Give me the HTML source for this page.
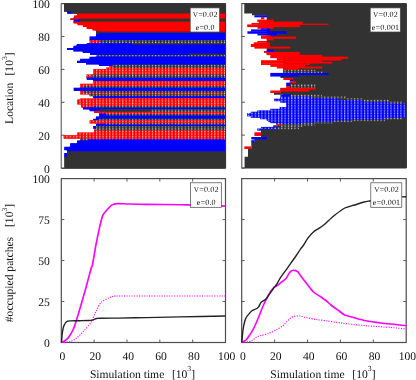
<!DOCTYPE html>
<html><head><meta charset="utf-8"><title>Simulation panels</title>
<style>html,body{margin:0;padding:0;background:#fff;}body{width:416px;height:380px;overflow:hidden;position:relative;font-family:"Liberation Serif",serif;}</style></head>
<body>
<svg width="416" height="380" viewBox="0 0 416 380" style="position:absolute;left:0;top:0;display:block;will-change:transform;text-rendering:geometricPrecision">
<defs>
<pattern id="p1" x="59.80" y="167.30" width="3.286" height="1.647" patternUnits="userSpaceOnUse"><rect x="0" y="0" width="1.15" height="1.05" fill="#fff" fill-opacity="0.75"/></pattern>
<pattern id="p2" x="241.50" y="167.50" width="3.31" height="1.647" patternUnits="userSpaceOnUse"><rect x="0" y="0" width="1.15" height="1.05" fill="#fff" fill-opacity="0.75"/></pattern>
<clipPath id="c1"><path d="M225.60 3.60 L64.00 3.60 L64.00 11.70 L67.20 11.70 L67.20 13.70 L77.00 13.70 L77.00 15.60 L74.00 15.60 L74.00 17.00 L73.70 17.00 L73.70 18.30 L70.30 18.30 L70.30 18.80 L70.30 18.80 L70.30 19.90 L73.70 19.90 L73.70 21.80 L73.50 21.80 L73.50 23.50 L77.50 23.50 L77.50 25.30 L83.00 25.30 L83.00 27.00 L86.70 27.00 L86.70 29.00 L92.50 29.00 L92.50 30.50 L96.00 30.50 L96.00 31.20 L96.00 31.20 L96.00 31.80 L96.00 31.80 L96.00 33.00 L96.00 33.00 L96.00 34.00 L96.00 34.00 L96.00 36.40 L89.60 36.40 L89.60 40.20 L89.60 40.20 L89.60 40.30 L89.60 40.30 L89.60 43.30 L86.70 43.30 L86.70 43.40 L86.70 43.40 L86.70 44.20 L76.80 44.20 L76.80 44.70 L76.80 44.70 L76.80 45.80 L73.50 45.80 L73.50 47.90 L67.00 47.90 L67.00 50.00 L73.50 50.00 L73.50 51.50 L82.80 51.50 L82.80 53.00 L90.10 53.00 L90.10 53.60 L90.10 53.60 L90.10 55.00 L96.00 55.00 L96.00 56.70 L89.60 56.70 L89.60 58.80 L80.20 58.80 L80.20 60.70 L77.00 60.70 L77.00 63.10 L86.00 63.10 L86.00 64.60 L99.00 64.60 L99.00 64.80 L99.00 64.80 L99.00 66.00 L109.00 66.00 L109.00 67.50 L106.00 67.50 L106.00 68.00 L106.00 68.00 L106.00 69.00 L93.20 69.00 L93.20 74.40 L86.00 74.40 L86.00 74.70 L86.00 74.70 L86.00 77.60 L86.70 77.60 L86.70 77.70 L86.70 77.70 L86.70 79.80 L93.20 79.80 L93.20 81.00 L93.20 81.00 L93.20 83.70 L80.20 83.70 L80.20 86.00 L80.20 86.00 L80.20 87.70 L73.70 87.70 L73.70 90.90 L80.20 90.90 L80.20 93.00 L80.20 93.00 L80.20 94.50 L89.60 94.50 L89.60 96.30 L93.20 96.30 L93.20 98.40 L80.20 98.40 L80.20 99.50 L77.30 99.50 L77.30 104.60 L81.00 104.60 L81.00 106.00 L81.00 106.00 L81.00 107.30 L81.00 107.30 L81.00 107.50 L83.00 107.50 L83.00 107.60 L83.00 107.60 L83.00 107.70 L83.00 107.70 L83.00 109.40 L89.60 109.40 L89.60 111.20 L94.00 111.20 L94.00 111.90 L94.00 111.90 L94.00 113.00 L99.70 113.00 L99.70 113.60 L99.20 113.60 L99.20 113.90 L99.20 113.90 L99.20 115.50 L99.70 115.50 L99.70 115.60 L99.70 115.60 L99.70 116.50 L96.00 116.50 L96.00 118.70 L93.20 118.70 L93.20 118.80 L93.20 118.80 L93.20 120.20 L89.60 120.20 L89.60 120.40 L89.60 120.40 L89.60 123.20 L89.60 123.20 L89.60 123.60 L106.00 123.60 L106.00 123.80 L96.00 123.80 L96.00 124.60 L96.00 124.60 L96.00 126.00 L93.20 126.00 L93.20 126.20 L93.20 126.20 L93.20 126.40 L93.20 126.40 L93.20 128.80 L96.00 128.80 L96.00 129.60 L94.00 129.60 L94.00 130.60 L94.00 130.60 L94.00 132.50 L77.30 132.50 L77.30 135.30 L63.60 135.30 L63.60 138.70 L80.20 138.70 L80.20 139.40 L80.20 139.40 L80.20 140.60 L77.00 140.60 L77.00 143.20 L70.20 143.20 L70.20 146.80 L64.30 146.80 L64.30 150.20 L67.00 150.20 L67.00 151.60 L67.00 151.60 L67.00 153.00 L64.30 153.00 L64.30 156.80 L64.30 156.80 L64.30 168.30 L225.60 168.30 Z"/></clipPath>
<filter id="soft" x="-2%" y="-2%" width="104%" height="104%"><feGaussianBlur stdDeviation="0.4"/></filter>
</defs>
<rect x="0" y="0" width="416" height="380" fill="#fff"/>
<g filter="url(#soft)">
<g clip-path="url(#c1)">
<rect x="63.30" y="2.90" width="163.00" height="9.50" fill="#333333"/>
<rect x="69.80" y="11.00" width="156.50" height="3.40" fill="#333333"/>
<rect x="66.50" y="11.00" width="4.70" height="3.40" fill="#0000ff"/>
<rect x="76.30" y="13.00" width="150.00" height="3.30" fill="#ff0000"/>
<rect x="73.30" y="14.90" width="153.00" height="2.80" fill="#ff0000"/>
<rect x="73.00" y="16.30" width="153.30" height="3.20" fill="#ff0000"/>
<rect x="69.60" y="17.60" width="5.00" height="3.00" fill="#ff0000"/>
<rect x="79.30" y="18.10" width="147.00" height="4.40" fill="#333333"/>
<rect x="73.00" y="19.20" width="7.70" height="3.30" fill="#0000ff"/>
<rect x="72.80" y="21.10" width="153.50" height="3.10" fill="#ff0000"/>
<rect x="76.80" y="22.80" width="149.50" height="3.20" fill="#ff0000"/>
<rect x="82.30" y="24.60" width="144.00" height="3.10" fill="#ff0000"/>
<rect x="86.00" y="26.30" width="140.30" height="3.40" fill="#ff0000"/>
<rect x="91.80" y="28.30" width="134.50" height="2.90" fill="#ff0000"/>
<rect x="95.30" y="29.80" width="131.00" height="2.70" fill="#ff0000"/>
<rect x="95.30" y="30.50" width="5.10" height="4.20" fill="#333333"/>
<rect x="99.00" y="31.10" width="127.30" height="2.60" fill="#333333"/>
<rect x="99.00" y="32.30" width="127.30" height="2.40" fill="#0000ff"/>
<rect x="95.30" y="33.30" width="131.00" height="3.80" fill="#0000ff"/>
<rect x="88.90" y="35.70" width="137.40" height="5.30" fill="#0000ff"/>
<rect x="88.90" y="39.50" width="10.80" height="4.50" fill="#ff0000"/>
<rect x="98.30" y="39.50" width="128.00" height="4.60" fill="#333333"/>
<rect x="131.00" y="42.70" width="95.30" height="2.70" fill="#333333"/>
<rect x="86.00" y="42.60" width="46.40" height="2.80" fill="#0000ff"/>
<rect x="76.10" y="43.50" width="56.30" height="3.00" fill="#0000ff"/>
<rect x="76.10" y="44.00" width="150.20" height="2.50" fill="#0000ff"/>
<rect x="72.80" y="45.10" width="153.50" height="3.50" fill="#0000ff"/>
<rect x="66.30" y="47.20" width="160.00" height="3.50" fill="#0000ff"/>
<rect x="72.80" y="49.30" width="153.50" height="2.90" fill="#0000ff"/>
<rect x="82.10" y="50.80" width="144.20" height="2.90" fill="#0000ff"/>
<rect x="89.40" y="52.30" width="136.90" height="3.40" fill="#0000ff"/>
<rect x="95.30" y="54.30" width="131.00" height="3.10" fill="#333333"/>
<rect x="188.70" y="52.90" width="37.60" height="2.80" fill="#333333"/>
<rect x="88.90" y="56.00" width="137.40" height="3.50" fill="#0000ff"/>
<rect x="79.50" y="58.10" width="146.80" height="3.30" fill="#0000ff"/>
<rect x="76.30" y="60.00" width="150.00" height="3.80" fill="#0000ff"/>
<rect x="85.30" y="62.40" width="141.00" height="2.90" fill="#0000ff"/>
<rect x="98.30" y="63.90" width="128.00" height="2.80" fill="#0000ff"/>
<rect x="112.00" y="64.10" width="114.30" height="4.60" fill="#333333"/>
<rect x="108.30" y="65.30" width="5.10" height="2.90" fill="#ff0000"/>
<rect x="105.30" y="66.80" width="8.10" height="2.90" fill="#ff0000"/>
<rect x="112.00" y="67.30" width="114.30" height="2.40" fill="#ff0000"/>
<rect x="92.50" y="68.30" width="133.80" height="7.10" fill="#ff0000"/>
<rect x="85.30" y="73.70" width="7.90" height="4.60" fill="#ff0000"/>
<rect x="91.80" y="74.00" width="134.50" height="4.40" fill="#333333"/>
<rect x="86.00" y="76.90" width="140.30" height="3.60" fill="#0000ff"/>
<rect x="92.50" y="79.10" width="133.80" height="2.60" fill="#0000ff"/>
<rect x="92.50" y="80.30" width="133.80" height="4.10" fill="#ff0000"/>
<rect x="79.50" y="83.00" width="146.80" height="3.70" fill="#ff0000"/>
<rect x="79.50" y="85.30" width="5.00" height="3.10" fill="#ff0000"/>
<rect x="83.10" y="85.30" width="143.20" height="3.10" fill="#333333"/>
<rect x="73.00" y="87.00" width="153.30" height="4.60" fill="#0000ff"/>
<rect x="79.50" y="90.20" width="5.00" height="3.50" fill="#ff0000"/>
<rect x="83.10" y="90.20" width="143.20" height="3.50" fill="#333333"/>
<rect x="79.50" y="92.30" width="146.80" height="2.90" fill="#ff0000"/>
<rect x="88.90" y="93.80" width="137.40" height="3.20" fill="#333333"/>
<rect x="92.50" y="95.60" width="133.80" height="3.50" fill="#0000ff"/>
<rect x="79.50" y="97.70" width="146.80" height="2.50" fill="#ff0000"/>
<rect x="76.60" y="98.80" width="149.70" height="6.50" fill="#ff0000"/>
<rect x="80.30" y="103.90" width="146.00" height="2.80" fill="#ff0000"/>
<rect x="80.30" y="105.30" width="13.40" height="2.90" fill="#ff0000"/>
<rect x="92.30" y="105.30" width="134.00" height="3.10" fill="#333333"/>
<rect x="82.30" y="106.60" width="18.10" height="3.50" fill="#0000ff"/>
<rect x="99.00" y="106.90" width="127.30" height="3.20" fill="#0000ff"/>
<rect x="88.90" y="108.70" width="11.50" height="3.20" fill="#0000ff"/>
<rect x="99.00" y="108.70" width="51.70" height="3.90" fill="#333333"/>
<rect x="149.30" y="108.70" width="77.00" height="3.90" fill="#333333"/>
<rect x="93.30" y="110.50" width="7.10" height="3.20" fill="#ff0000"/>
<rect x="99.00" y="111.20" width="8.10" height="3.10" fill="#ff0000"/>
<rect x="98.50" y="112.90" width="8.60" height="3.30" fill="#0000ff"/>
<rect x="105.70" y="111.20" width="120.60" height="3.40" fill="#ff0000"/>
<rect x="105.70" y="113.20" width="120.60" height="3.10" fill="#333333"/>
<rect x="99.00" y="114.80" width="127.30" height="2.40" fill="#0000ff"/>
<rect x="95.30" y="115.80" width="131.00" height="3.70" fill="#0000ff"/>
<rect x="92.50" y="118.00" width="7.20" height="3.10" fill="#0000ff"/>
<rect x="98.30" y="118.10" width="128.00" height="2.80" fill="#333333"/>
<rect x="88.90" y="119.50" width="137.40" height="4.80" fill="#ff0000"/>
<rect x="105.30" y="122.50" width="121.00" height="2.80" fill="#333333"/>
<rect x="95.30" y="123.10" width="14.40" height="4.00" fill="#0000ff"/>
<rect x="108.30" y="123.90" width="118.00" height="3.00" fill="#0000ff"/>
<rect x="92.50" y="125.30" width="4.20" height="4.20" fill="#0000ff"/>
<rect x="95.30" y="125.70" width="131.00" height="5.60" fill="#333333"/>
<rect x="93.30" y="128.90" width="3.40" height="4.30" fill="#ff0000"/>
<rect x="95.30" y="129.90" width="131.00" height="3.30" fill="#ff0000"/>
<rect x="76.60" y="131.80" width="149.70" height="4.20" fill="#ff0000"/>
<rect x="62.90" y="134.60" width="163.40" height="4.80" fill="#ff0000"/>
<rect x="79.50" y="138.00" width="9.20" height="3.30" fill="#333333"/>
<rect x="87.30" y="138.00" width="139.00" height="2.10" fill="#ff0000"/>
<rect x="87.30" y="138.70" width="139.00" height="2.60" fill="#0000ff"/>
<rect x="76.30" y="139.90" width="150.00" height="4.00" fill="#0000ff"/>
<rect x="69.50" y="142.50" width="156.80" height="5.00" fill="#0000ff"/>
<rect x="63.60" y="146.10" width="162.70" height="4.80" fill="#0000ff"/>
<rect x="66.30" y="149.50" width="160.00" height="2.80" fill="#0000ff"/>
<rect x="63.60" y="152.30" width="4.10" height="5.20" fill="#0000ff"/>
<rect x="66.30" y="150.90" width="160.00" height="6.60" fill="#333333"/>
<rect x="63.60" y="156.10" width="162.70" height="12.90" fill="#333333"/>
<rect x="64.00" y="3.60" width="161.60" height="8.10" fill="#333333"/>
<rect x="70.50" y="11.70" width="155.10" height="2.00" fill="#333333"/>
<rect x="67.20" y="11.70" width="3.30" height="2.00" fill="#0000ff"/>
<rect x="77.00" y="13.70" width="148.60" height="1.90" fill="#ff0000"/>
<rect x="74.00" y="15.60" width="151.60" height="1.40" fill="#ff0000"/>
<rect x="73.70" y="17.00" width="151.90" height="1.80" fill="#ff0000"/>
<rect x="70.30" y="18.30" width="3.60" height="1.60" fill="#ff0000"/>
<rect x="80.00" y="18.80" width="145.60" height="3.00" fill="#333333"/>
<rect x="73.70" y="19.90" width="6.30" height="1.90" fill="#0000ff"/>
<rect x="73.50" y="21.80" width="152.10" height="1.70" fill="#ff0000"/>
<rect x="77.50" y="23.50" width="148.10" height="1.80" fill="#ff0000"/>
<rect x="83.00" y="25.30" width="142.60" height="1.70" fill="#ff0000"/>
<rect x="86.70" y="27.00" width="138.90" height="2.00" fill="#ff0000"/>
<rect x="92.50" y="29.00" width="133.10" height="1.50" fill="#ff0000"/>
<rect x="96.00" y="30.50" width="129.60" height="1.30" fill="#ff0000"/>
<rect x="96.00" y="31.20" width="3.70" height="2.80" fill="#333333"/>
<rect x="99.70" y="31.80" width="125.90" height="1.20" fill="#333333"/>
<rect x="99.70" y="33.00" width="125.90" height="1.00" fill="#0000ff"/>
<rect x="96.00" y="34.00" width="129.60" height="2.40" fill="#0000ff"/>
<rect x="89.60" y="36.40" width="136.00" height="3.90" fill="#0000ff"/>
<rect x="89.60" y="40.20" width="9.40" height="3.10" fill="#ff0000"/>
<rect x="99.00" y="40.20" width="126.60" height="3.20" fill="#333333"/>
<rect x="131.70" y="43.40" width="93.90" height="1.30" fill="#333333"/>
<rect x="86.70" y="43.30" width="45.00" height="1.40" fill="#0000ff"/>
<rect x="76.80" y="44.20" width="54.90" height="1.60" fill="#0000ff"/>
<rect x="76.80" y="44.70" width="148.80" height="1.10" fill="#0000ff"/>
<rect x="73.50" y="45.80" width="152.10" height="2.10" fill="#0000ff"/>
<rect x="67.00" y="47.90" width="158.60" height="2.10" fill="#0000ff"/>
<rect x="73.50" y="50.00" width="152.10" height="1.50" fill="#0000ff"/>
<rect x="82.80" y="51.50" width="142.80" height="1.50" fill="#0000ff"/>
<rect x="90.10" y="53.00" width="135.50" height="2.00" fill="#0000ff"/>
<rect x="96.00" y="55.00" width="129.60" height="1.70" fill="#333333"/>
<rect x="189.40" y="53.60" width="36.20" height="1.40" fill="#333333"/>
<rect x="89.60" y="56.70" width="136.00" height="2.10" fill="#0000ff"/>
<rect x="80.20" y="58.80" width="145.40" height="1.90" fill="#0000ff"/>
<rect x="77.00" y="60.70" width="148.60" height="2.40" fill="#0000ff"/>
<rect x="86.00" y="63.10" width="139.60" height="1.50" fill="#0000ff"/>
<rect x="99.00" y="64.60" width="126.60" height="1.40" fill="#0000ff"/>
<rect x="112.70" y="64.80" width="112.90" height="3.20" fill="#333333"/>
<rect x="109.00" y="66.00" width="3.70" height="1.50" fill="#ff0000"/>
<rect x="106.00" y="67.50" width="6.70" height="1.50" fill="#ff0000"/>
<rect x="112.70" y="68.00" width="112.90" height="1.00" fill="#ff0000"/>
<rect x="93.20" y="69.00" width="132.40" height="5.70" fill="#ff0000"/>
<rect x="86.00" y="74.40" width="6.50" height="3.20" fill="#ff0000"/>
<rect x="92.50" y="74.70" width="133.10" height="3.00" fill="#333333"/>
<rect x="86.70" y="77.60" width="138.90" height="2.20" fill="#0000ff"/>
<rect x="93.20" y="79.80" width="132.40" height="1.20" fill="#0000ff"/>
<rect x="93.20" y="81.00" width="132.40" height="2.70" fill="#ff0000"/>
<rect x="80.20" y="83.70" width="145.40" height="2.30" fill="#ff0000"/>
<rect x="80.20" y="86.00" width="3.60" height="1.70" fill="#ff0000"/>
<rect x="83.80" y="86.00" width="141.80" height="1.70" fill="#333333"/>
<rect x="73.70" y="87.70" width="151.90" height="3.20" fill="#0000ff"/>
<rect x="80.20" y="90.90" width="3.60" height="2.10" fill="#ff0000"/>
<rect x="83.80" y="90.90" width="141.80" height="2.10" fill="#333333"/>
<rect x="80.20" y="93.00" width="145.40" height="1.50" fill="#ff0000"/>
<rect x="89.60" y="94.50" width="136.00" height="1.80" fill="#333333"/>
<rect x="93.20" y="96.30" width="132.40" height="2.10" fill="#0000ff"/>
<rect x="80.20" y="98.40" width="145.40" height="1.10" fill="#ff0000"/>
<rect x="77.30" y="99.50" width="148.30" height="5.10" fill="#ff0000"/>
<rect x="81.00" y="104.60" width="144.60" height="1.40" fill="#ff0000"/>
<rect x="81.00" y="106.00" width="12.00" height="1.50" fill="#ff0000"/>
<rect x="93.00" y="106.00" width="132.60" height="1.70" fill="#333333"/>
<rect x="83.00" y="107.30" width="16.70" height="2.10" fill="#0000ff"/>
<rect x="99.70" y="107.60" width="125.90" height="1.80" fill="#0000ff"/>
<rect x="89.60" y="109.40" width="10.10" height="1.80" fill="#0000ff"/>
<rect x="99.70" y="109.40" width="50.30" height="2.50" fill="#333333"/>
<rect x="150.00" y="109.40" width="75.60" height="2.50" fill="#333333"/>
<rect x="94.00" y="111.20" width="5.70" height="1.80" fill="#ff0000"/>
<rect x="99.70" y="111.90" width="6.70" height="1.70" fill="#ff0000"/>
<rect x="99.20" y="113.60" width="7.20" height="1.90" fill="#0000ff"/>
<rect x="106.40" y="111.90" width="119.20" height="2.00" fill="#ff0000"/>
<rect x="106.40" y="113.90" width="119.20" height="1.70" fill="#333333"/>
<rect x="99.70" y="115.50" width="125.90" height="1.00" fill="#0000ff"/>
<rect x="96.00" y="116.50" width="129.60" height="2.30" fill="#0000ff"/>
<rect x="93.20" y="118.70" width="5.80" height="1.70" fill="#0000ff"/>
<rect x="99.00" y="118.80" width="126.60" height="1.40" fill="#333333"/>
<rect x="89.60" y="120.20" width="136.00" height="3.40" fill="#ff0000"/>
<rect x="106.00" y="123.20" width="119.60" height="1.40" fill="#333333"/>
<rect x="96.00" y="123.80" width="13.00" height="2.60" fill="#0000ff"/>
<rect x="109.00" y="124.60" width="116.60" height="1.60" fill="#0000ff"/>
<rect x="93.20" y="126.00" width="2.80" height="2.80" fill="#0000ff"/>
<rect x="96.00" y="126.40" width="129.60" height="4.20" fill="#333333"/>
<rect x="94.00" y="129.60" width="2.00" height="2.90" fill="#ff0000"/>
<rect x="96.00" y="130.60" width="129.60" height="1.90" fill="#ff0000"/>
<rect x="77.30" y="132.50" width="148.30" height="2.80" fill="#ff0000"/>
<rect x="63.60" y="135.30" width="162.00" height="3.40" fill="#ff0000"/>
<rect x="80.20" y="138.70" width="7.80" height="1.90" fill="#333333"/>
<rect x="88.00" y="138.70" width="137.60" height="0.70" fill="#ff0000"/>
<rect x="88.00" y="139.40" width="137.60" height="1.20" fill="#0000ff"/>
<rect x="77.00" y="140.60" width="148.60" height="2.60" fill="#0000ff"/>
<rect x="70.20" y="143.20" width="155.40" height="3.60" fill="#0000ff"/>
<rect x="64.30" y="146.80" width="161.30" height="3.40" fill="#0000ff"/>
<rect x="67.00" y="150.20" width="158.60" height="1.40" fill="#0000ff"/>
<rect x="64.30" y="153.00" width="2.70" height="3.80" fill="#0000ff"/>
<rect x="67.00" y="151.60" width="158.60" height="5.20" fill="#333333"/>
<rect x="64.30" y="156.80" width="161.30" height="11.50" fill="#333333"/>
<rect x="89.60" y="40.20" width="9.40" height="3.10" fill="url(#p1)"/>
<rect x="99.00" y="40.20" width="126.60" height="3.20" fill="url(#p1)"/>
<rect x="96.00" y="55.00" width="129.60" height="1.70" fill="url(#p1)"/>
<rect x="112.70" y="64.80" width="112.90" height="3.20" fill="url(#p1)"/>
<rect x="109.00" y="66.00" width="3.70" height="1.50" fill="url(#p1)"/>
<rect x="106.00" y="67.50" width="6.70" height="1.50" fill="url(#p1)"/>
<rect x="112.70" y="68.00" width="112.90" height="1.00" fill="url(#p1)"/>
<rect x="93.20" y="69.00" width="132.40" height="5.70" fill="url(#p1)"/>
<rect x="86.00" y="74.40" width="6.50" height="3.20" fill="url(#p1)"/>
<rect x="92.50" y="74.70" width="133.10" height="3.00" fill="url(#p1)"/>
<rect x="93.20" y="81.00" width="132.40" height="2.70" fill="url(#p1)"/>
<rect x="80.20" y="83.70" width="145.40" height="2.30" fill="url(#p1)"/>
<rect x="80.20" y="86.00" width="3.60" height="1.70" fill="url(#p1)"/>
<rect x="83.80" y="86.00" width="141.80" height="1.70" fill="url(#p1)"/>
<rect x="80.20" y="90.90" width="3.60" height="2.10" fill="url(#p1)"/>
<rect x="83.80" y="90.90" width="141.80" height="2.10" fill="url(#p1)"/>
<rect x="80.20" y="93.00" width="145.40" height="1.50" fill="url(#p1)"/>
<rect x="89.60" y="94.50" width="136.00" height="1.80" fill="url(#p1)"/>
<rect x="80.20" y="98.40" width="145.40" height="1.10" fill="url(#p1)"/>
<rect x="77.30" y="99.50" width="148.30" height="5.10" fill="url(#p1)"/>
<rect x="81.00" y="104.60" width="144.60" height="1.40" fill="url(#p1)"/>
<rect x="81.00" y="106.00" width="12.00" height="1.50" fill="url(#p1)"/>
<rect x="93.00" y="106.00" width="132.60" height="1.70" fill="url(#p1)"/>
<rect x="150.00" y="109.40" width="75.60" height="2.50" fill="url(#p1)"/>
<rect x="99.70" y="111.90" width="6.70" height="1.70" fill="url(#p1)"/>
<rect x="106.40" y="111.90" width="119.20" height="2.00" fill="url(#p1)"/>
<rect x="106.40" y="113.90" width="119.20" height="1.70" fill="url(#p1)"/>
<rect x="99.00" y="118.80" width="126.60" height="1.40" fill="url(#p1)"/>
<rect x="89.60" y="120.20" width="136.00" height="3.40" fill="url(#p1)"/>
<rect x="106.00" y="123.20" width="119.60" height="1.40" fill="url(#p1)"/>
<rect x="96.00" y="126.40" width="129.60" height="4.20" fill="url(#p1)"/>
<rect x="94.00" y="129.60" width="2.00" height="2.90" fill="url(#p1)"/>
<rect x="96.00" y="130.60" width="129.60" height="1.90" fill="url(#p1)"/>
<rect x="77.30" y="132.50" width="148.30" height="2.80" fill="url(#p1)"/>
<rect x="63.60" y="135.30" width="162.00" height="3.40" fill="url(#p1)"/>
<rect x="80.20" y="138.70" width="7.80" height="1.90" fill="url(#p1)"/>
<rect x="88.00" y="138.70" width="137.60" height="0.70" fill="url(#p1)"/>
</g>
</g>
<path d="M61.3 3.6 H225.6 V168.3 H61.3" fill="none" stroke="#333333" stroke-width="1"/>
<line x1="61.3" y1="3.2" x2="61.3" y2="168.70000000000002" stroke="#808080" stroke-width="1.5"/>
<line x1="61.3" y1="168.10" x2="64.5" y2="168.10" stroke="#444" stroke-width="0.9"/>
<line x1="61.3" y1="135.20" x2="64.5" y2="135.20" stroke="#444" stroke-width="0.9"/>
<line x1="61.3" y1="102.30" x2="64.5" y2="102.30" stroke="#444" stroke-width="0.9"/>
<line x1="61.3" y1="69.40" x2="64.5" y2="69.40" stroke="#444" stroke-width="0.9"/>
<line x1="61.3" y1="36.50" x2="64.5" y2="36.50" stroke="#444" stroke-width="0.9"/>
<line x1="61.3" y1="3.60" x2="64.5" y2="3.60" stroke="#444" stroke-width="0.9"/>
<g font-family="'Liberation Serif', serif" fill="#111">
<rect x="190.2" y="7.9" width="29.400000000000006" height="24.1" fill="#fff" stroke="#444" stroke-width="0.7"/>
<text x="205.20" y="17.40" font-size="8.0" letter-spacing="0.2" text-anchor="middle"><tspan font-size="7.2">V</tspan>=0.02</text>
<text x="205.20" y="29.80" font-size="8.0" letter-spacing="0.2" text-anchor="middle">e=0.0</text>
</g><g filter="url(#soft)">
<path d="M406.40 3.60 L244.30 3.60 L244.30 13.60 L252.00 13.60 L252.00 15.20 L266.70 15.20 L266.70 17.00 L266.70 17.00 L266.70 55.00 L283.00 55.00 L283.00 69.50 L283.30 69.50 L283.30 76.00 L280.40 76.00 L280.40 78.00 L292.70 78.00 L292.70 82.50 L289.80 82.50 L289.80 88.00 L280.40 88.00 L280.40 94.40 L283.00 94.40 L283.00 123.00 L280.10 123.00 L280.10 125.20 L273.20 125.20 L273.20 127.00 L261.00 127.00 L261.00 137.00 L254.40 137.00 L254.40 142.00 L251.30 142.00 L251.30 148.60 L248.00 148.60 L248.00 156.80 L244.60 156.80 L244.60 168.00 L406.40 168.00 Z" fill="#333333"/>
<rect x="274.00" y="92.50" width="6.75" height="2.25" fill="#333333"/>
<rect x="254.40" y="15.20" width="12.65" height="2.15" fill="#0000ff"/>
<rect x="261.00" y="17.20" width="3.35" height="2.15" fill="#ff0000"/>
<rect x="257.30" y="19.60" width="16.25" height="2.35" fill="#ff0000"/>
<rect x="258.80" y="21.60" width="43.85" height="2.45" fill="#ff0000"/>
<rect x="251.50" y="22.90" width="7.65" height="1.85" fill="#ff0000"/>
<rect x="258.80" y="23.70" width="69.75" height="1.25" fill="#ff0000"/>
<rect x="247.20" y="24.40" width="52.55" height="2.75" fill="#ff0000"/>
<rect x="257.50" y="26.80" width="16.05" height="2.05" fill="#ff0000"/>
<rect x="261.00" y="28.50" width="8.95" height="1.25" fill="#0000ff"/>
<rect x="251.00" y="29.40" width="19.15" height="2.25" fill="#0000ff"/>
<rect x="247.40" y="31.30" width="39.15" height="2.45" fill="#0000ff"/>
<rect x="257.50" y="33.40" width="19.45" height="2.05" fill="#0000ff"/>
<rect x="261.00" y="35.30" width="9.65" height="1.65" fill="#ff0000"/>
<rect x="261.00" y="36.60" width="35.05" height="2.15" fill="#ff0000"/>
<rect x="266.70" y="38.40" width="6.85" height="1.95" fill="#ff0000"/>
<rect x="257.30" y="41.00" width="9.75" height="1.65" fill="#ff0000"/>
<rect x="253.70" y="42.30" width="16.25" height="2.05" fill="#ff0000"/>
<rect x="250.80" y="44.00" width="19.15" height="2.35" fill="#ff0000"/>
<rect x="250.80" y="46.00" width="16.25" height="0.95" fill="#ff0000"/>
<rect x="254.40" y="46.60" width="35.75" height="2.05" fill="#ff0000"/>
<rect x="264.00" y="51.00" width="3.05" height="1.95" fill="#ff0000"/>
<rect x="266.70" y="49.80" width="7.05" height="2.45" fill="#0000ff"/>
<rect x="266.70" y="51.90" width="33.05" height="3.25" fill="#ff0000"/>
<rect x="270.30" y="54.80" width="51.75" height="2.15" fill="#ff0000"/>
<rect x="270.30" y="56.60" width="77.75" height="1.55" fill="#ff0000"/>
<rect x="276.80" y="57.80" width="71.25" height="1.05" fill="#ff0000"/>
<rect x="276.80" y="58.50" width="64.75" height="2.05" fill="#ff0000"/>
<rect x="261.00" y="60.20" width="61.05" height="1.85" fill="#ff0000"/>
<rect x="261.00" y="61.70" width="71.15" height="1.85" fill="#ff0000"/>
<rect x="261.00" y="63.20" width="48.85" height="1.75" fill="#ff0000"/>
<rect x="270.30" y="64.60" width="35.05" height="2.25" fill="#ff0000"/>
<rect x="276.80" y="66.50" width="45.25" height="1.95" fill="#ff0000"/>
<rect x="283.30" y="68.10" width="15.75" height="1.95" fill="#ff0000"/>
<rect x="283.30" y="69.70" width="32.35" height="3.55" fill="#333333"/>
<rect x="315.30" y="71.20" width="9.05" height="2.05" fill="#333333"/>
<rect x="270.30" y="72.90" width="58.25" height="2.25" fill="#0000ff"/>
<rect x="270.30" y="74.80" width="28.75" height="1.75" fill="#0000ff"/>
<rect x="283.30" y="77.90" width="9.95" height="2.15" fill="#ff0000"/>
<rect x="289.80" y="79.70" width="3.45" height="1.85" fill="#0000ff"/>
<rect x="289.80" y="81.20" width="6.35" height="1.95" fill="#ff0000"/>
<rect x="286.20" y="82.60" width="3.95" height="3.95" fill="#0000ff"/>
<rect x="289.80" y="84.20" width="25.85" height="3.75" fill="#333333"/>
<rect x="286.20" y="86.20" width="3.95" height="2.15" fill="#ff0000"/>
<rect x="280.40" y="87.80" width="35.25" height="1.95" fill="#ff0000"/>
<rect x="280.40" y="89.40" width="28.75" height="2.15" fill="#ff0000"/>
<rect x="270.30" y="90.50" width="10.45" height="2.45" fill="#ff0000"/>
<rect x="290.00" y="94.60" width="32.05" height="3.45" fill="#333333"/>
<rect x="321.70" y="96.20" width="24.65" height="2.45" fill="#333333"/>
<rect x="346.00" y="98.20" width="18.35" height="2.35" fill="#333333"/>
<rect x="364.00" y="99.60" width="25.35" height="2.55" fill="#333333"/>
<rect x="389.00" y="101.40" width="14.35" height="2.45" fill="#333333"/>
<rect x="280.40" y="94.40" width="10.45" height="2.45" fill="#0000ff"/>
<rect x="280.40" y="96.50" width="31.55" height="1.55" fill="#0000ff"/>
<rect x="280.40" y="97.70" width="31.55" height="0.95" fill="#0000ff"/>
<rect x="280.40" y="98.30" width="57.55" height="0.75" fill="#0000ff"/>
<rect x="274.00" y="98.70" width="63.95" height="1.85" fill="#0000ff"/>
<rect x="274.00" y="100.20" width="90.05" height="1.05" fill="#0000ff"/>
<rect x="280.40" y="100.90" width="83.65" height="1.25" fill="#0000ff"/>
<rect x="280.40" y="101.80" width="108.95" height="2.05" fill="#0000ff"/>
<rect x="280.40" y="103.50" width="125.75" height="3.45" fill="#0000ff"/>
<rect x="279.70" y="106.60" width="126.45" height="2.55" fill="#0000ff"/>
<rect x="270.30" y="108.80" width="135.85" height="1.85" fill="#0000ff"/>
<rect x="257.30" y="110.30" width="148.85" height="1.75" fill="#0000ff"/>
<rect x="250.80" y="111.70" width="155.35" height="1.75" fill="#0000ff"/>
<rect x="247.20" y="113.10" width="158.95" height="3.25" fill="#0000ff"/>
<rect x="250.80" y="116.00" width="155.35" height="1.85" fill="#0000ff"/>
<rect x="260.20" y="117.50" width="145.95" height="0.65" fill="#0000ff"/>
<rect x="260.20" y="117.80" width="125.75" height="1.45" fill="#0000ff"/>
<rect x="266.70" y="118.90" width="119.25" height="0.95" fill="#0000ff"/>
<rect x="266.70" y="119.50" width="86.35" height="1.35" fill="#0000ff"/>
<rect x="268.00" y="120.50" width="65.65" height="1.65" fill="#0000ff"/>
<rect x="270.30" y="121.80" width="44.55" height="1.35" fill="#0000ff"/>
<rect x="276.00" y="122.80" width="26.65" height="1.75" fill="#0000ff"/>
<rect x="280.40" y="97.70" width="31.55" height="1.35" fill="#0000ff"/>
<rect x="280.00" y="102.90" width="6.15" height="4.15" fill="#ffffff"/>
<rect x="302.30" y="122.80" width="12.55" height="3.55" fill="#333333"/>
<rect x="280.40" y="124.20" width="22.25" height="3.15" fill="#333333"/>
<rect x="273.20" y="127.00" width="26.15" height="2.65" fill="#333333"/>
<rect x="314.50" y="121.80" width="18.85" height="1.95" fill="#333333"/>
<rect x="333.00" y="120.60" width="19.35" height="1.95" fill="#333333"/>
<rect x="352.00" y="119.60" width="33.35" height="1.95" fill="#333333"/>
<rect x="385.00" y="117.90" width="18.35" height="1.95" fill="#333333"/>
<rect x="276.80" y="123.00" width="3.65" height="2.65" fill="#ff0000"/>
<rect x="261.00" y="126.90" width="16.15" height="2.45" fill="#0000ff"/>
<rect x="257.30" y="128.40" width="4.05" height="2.25" fill="#0000ff"/>
<rect x="254.40" y="132.30" width="6.95" height="3.65" fill="#ff0000"/>
<rect x="251.30" y="137.00" width="15.75" height="2.45" fill="#0000ff"/>
<rect x="251.30" y="140.20" width="3.25" height="2.15" fill="#0000ff"/>
<rect x="244.30" y="146.40" width="6.85" height="2.55" fill="#ff0000"/>
<rect x="283.30" y="69.70" width="32.00" height="3.20" fill="url(#p2)"/>
<rect x="315.30" y="71.20" width="8.70" height="1.70" fill="url(#p2)"/>
<rect x="289.80" y="84.20" width="25.50" height="3.40" fill="url(#p2)"/>
<rect x="290.00" y="94.60" width="31.70" height="3.10" fill="url(#p2)"/>
<rect x="321.70" y="96.20" width="24.30" height="2.10" fill="url(#p2)"/>
<rect x="346.00" y="98.20" width="18.00" height="2.00" fill="url(#p2)"/>
<rect x="364.00" y="99.60" width="25.00" height="2.20" fill="url(#p2)"/>
<rect x="389.00" y="101.40" width="14.00" height="2.10" fill="url(#p2)"/>
<rect x="280.40" y="96.50" width="31.20" height="1.20" fill="url(#p2)"/>
<rect x="280.40" y="97.70" width="31.20" height="0.60" fill="url(#p2)"/>
<rect x="280.40" y="98.30" width="57.20" height="0.40" fill="url(#p2)"/>
<rect x="274.00" y="98.70" width="63.60" height="1.50" fill="url(#p2)"/>
<rect x="274.00" y="100.20" width="89.70" height="0.70" fill="url(#p2)"/>
<rect x="280.40" y="100.90" width="83.30" height="0.90" fill="url(#p2)"/>
<rect x="280.40" y="101.80" width="108.60" height="1.70" fill="url(#p2)"/>
<rect x="280.40" y="103.50" width="125.40" height="3.10" fill="url(#p2)"/>
<rect x="279.70" y="106.60" width="126.10" height="2.20" fill="url(#p2)"/>
<rect x="270.30" y="108.80" width="135.50" height="1.50" fill="url(#p2)"/>
<rect x="257.30" y="110.30" width="148.50" height="1.40" fill="url(#p2)"/>
<rect x="250.80" y="111.70" width="155.00" height="1.40" fill="url(#p2)"/>
<rect x="247.20" y="113.10" width="158.60" height="2.90" fill="url(#p2)"/>
<rect x="250.80" y="116.00" width="155.00" height="1.50" fill="url(#p2)"/>
<rect x="260.20" y="117.50" width="145.60" height="0.30" fill="url(#p2)"/>
<rect x="260.20" y="117.80" width="125.40" height="1.10" fill="url(#p2)"/>
<rect x="266.70" y="118.90" width="118.90" height="0.60" fill="url(#p2)"/>
<rect x="266.70" y="119.50" width="86.00" height="1.00" fill="url(#p2)"/>
<rect x="268.00" y="120.50" width="65.30" height="1.30" fill="url(#p2)"/>
<rect x="270.30" y="121.80" width="44.20" height="1.00" fill="url(#p2)"/>
<rect x="276.00" y="122.80" width="26.30" height="1.40" fill="url(#p2)"/>
<rect x="280.40" y="97.70" width="31.20" height="1.00" fill="url(#p2)"/>
<rect x="302.30" y="122.80" width="12.20" height="3.20" fill="url(#p2)"/>
<rect x="280.40" y="124.20" width="21.90" height="2.80" fill="url(#p2)"/>
<rect x="273.20" y="127.00" width="25.80" height="2.30" fill="url(#p2)"/>
<rect x="314.50" y="121.80" width="18.50" height="1.60" fill="url(#p2)"/>
<rect x="333.00" y="120.60" width="19.00" height="1.60" fill="url(#p2)"/>
<rect x="352.00" y="119.60" width="33.00" height="1.60" fill="url(#p2)"/>
<rect x="385.00" y="117.90" width="18.00" height="1.60" fill="url(#p2)"/>
<rect x="261.00" y="126.90" width="15.80" height="2.10" fill="url(#p2)"/>
<rect x="257.30" y="128.40" width="3.70" height="1.90" fill="url(#p2)"/>
</g>
<path d="M241.7 3.6 H406.4 V168.0 H241.7" fill="none" stroke="#333333" stroke-width="1"/>
<line x1="241.7" y1="3.2" x2="241.7" y2="168.4" stroke="#808080" stroke-width="1.5"/>
<line x1="241.7" y1="168.00" x2="244.89999999999998" y2="168.00" stroke="#444" stroke-width="0.9"/>
<line x1="241.7" y1="135.12" x2="244.89999999999998" y2="135.12" stroke="#444" stroke-width="0.9"/>
<line x1="241.7" y1="102.24" x2="244.89999999999998" y2="102.24" stroke="#444" stroke-width="0.9"/>
<line x1="241.7" y1="69.36" x2="244.89999999999998" y2="69.36" stroke="#444" stroke-width="0.9"/>
<line x1="241.7" y1="36.48" x2="244.89999999999998" y2="36.48" stroke="#444" stroke-width="0.9"/>
<line x1="241.7" y1="3.60" x2="244.89999999999998" y2="3.60" stroke="#444" stroke-width="0.9"/>
<g font-family="'Liberation Serif', serif" fill="#111">
<rect x="370.2" y="7.9" width="30.100000000000023" height="24.1" fill="#fff" stroke="#444" stroke-width="0.7"/>
<text x="385.55" y="17.40" font-size="8.0" letter-spacing="0.2" text-anchor="middle"><tspan font-size="7.2">V</tspan>=0.02</text>
<text x="385.55" y="29.80" font-size="8.0" letter-spacing="0.2" text-anchor="middle">e=0.001</text>
</g>
<rect x="61.3" y="178.6" width="164.2" height="163.9" fill="#fff" stroke="#4d4d4d" stroke-width="1.2"/>
<line x1="94.14" y1="178.6" x2="94.14" y2="181.6" stroke="#4d4d4d" stroke-width="0.9"/>
<line x1="94.14" y1="342.5" x2="94.14" y2="339.5" stroke="#4d4d4d" stroke-width="0.9"/>
<line x1="126.98" y1="178.6" x2="126.98" y2="181.6" stroke="#4d4d4d" stroke-width="0.9"/>
<line x1="126.98" y1="342.5" x2="126.98" y2="339.5" stroke="#4d4d4d" stroke-width="0.9"/>
<line x1="159.82" y1="178.6" x2="159.82" y2="181.6" stroke="#4d4d4d" stroke-width="0.9"/>
<line x1="159.82" y1="342.5" x2="159.82" y2="339.5" stroke="#4d4d4d" stroke-width="0.9"/>
<line x1="192.66" y1="178.6" x2="192.66" y2="181.6" stroke="#4d4d4d" stroke-width="0.9"/>
<line x1="192.66" y1="342.5" x2="192.66" y2="339.5" stroke="#4d4d4d" stroke-width="0.9"/>
<line x1="61.3" y1="301.52" x2="64.3" y2="301.52" stroke="#4d4d4d" stroke-width="0.9"/>
<line x1="225.5" y1="301.52" x2="222.5" y2="301.52" stroke="#4d4d4d" stroke-width="0.9"/>
<line x1="61.3" y1="260.55" x2="64.3" y2="260.55" stroke="#4d4d4d" stroke-width="0.9"/>
<line x1="225.5" y1="260.55" x2="222.5" y2="260.55" stroke="#4d4d4d" stroke-width="0.9"/>
<line x1="61.3" y1="219.57" x2="64.3" y2="219.57" stroke="#4d4d4d" stroke-width="0.9"/>
<line x1="225.5" y1="219.57" x2="222.5" y2="219.57" stroke="#4d4d4d" stroke-width="0.9"/>
<rect x="241.7" y="178.6" width="164.5" height="163.9" fill="#fff" stroke="#4d4d4d" stroke-width="1.2"/>
<line x1="274.60" y1="178.6" x2="274.60" y2="181.6" stroke="#4d4d4d" stroke-width="0.9"/>
<line x1="274.60" y1="342.5" x2="274.60" y2="339.5" stroke="#4d4d4d" stroke-width="0.9"/>
<line x1="307.50" y1="178.6" x2="307.50" y2="181.6" stroke="#4d4d4d" stroke-width="0.9"/>
<line x1="307.50" y1="342.5" x2="307.50" y2="339.5" stroke="#4d4d4d" stroke-width="0.9"/>
<line x1="340.40" y1="178.6" x2="340.40" y2="181.6" stroke="#4d4d4d" stroke-width="0.9"/>
<line x1="340.40" y1="342.5" x2="340.40" y2="339.5" stroke="#4d4d4d" stroke-width="0.9"/>
<line x1="373.30" y1="178.6" x2="373.30" y2="181.6" stroke="#4d4d4d" stroke-width="0.9"/>
<line x1="373.30" y1="342.5" x2="373.30" y2="339.5" stroke="#4d4d4d" stroke-width="0.9"/>
<line x1="241.7" y1="301.52" x2="244.7" y2="301.52" stroke="#4d4d4d" stroke-width="0.9"/>
<line x1="406.2" y1="301.52" x2="403.2" y2="301.52" stroke="#4d4d4d" stroke-width="0.9"/>
<line x1="241.7" y1="260.55" x2="244.7" y2="260.55" stroke="#4d4d4d" stroke-width="0.9"/>
<line x1="406.2" y1="260.55" x2="403.2" y2="260.55" stroke="#4d4d4d" stroke-width="0.9"/>
<line x1="241.7" y1="219.57" x2="244.7" y2="219.57" stroke="#4d4d4d" stroke-width="0.9"/>
<line x1="406.2" y1="219.57" x2="403.2" y2="219.57" stroke="#4d4d4d" stroke-width="0.9"/>
<path d="M61.50 342.50 C62.86 342.32 68.75 341.96 71.00 341.25 C73.25 340.54 75.46 338.93 77.25 337.50 C79.04 336.07 81.54 333.39 83.50 331.25 C85.46 329.11 89.21 325.36 91.00 322.50 C92.79 319.64 94.57 314.11 96.00 311.25 C97.43 308.39 99.21 304.39 101.00 302.50 C102.79 300.61 106.54 298.91 108.50 298.00 C110.46 297.09 112.39 296.39 114.75 296.10 C117.11 295.81 109.18 296.01 125.00 296.00 C140.82 295.99 211.14 296.00 225.50 296.00" fill="none" stroke="#ff00ff" stroke-width="1.1" stroke-dasharray="1.15 1.35"/>
<path d="M61.50 342.50 C61.93 342.29 63.50 341.71 64.50 341.00 C65.50 340.29 67.21 339.25 68.50 337.50 C69.79 335.75 72.25 331.61 73.50 328.75 C74.75 325.89 76.18 320.89 77.25 317.50 C78.32 314.11 79.75 309.29 81.00 305.00 C82.25 300.71 84.57 292.68 86.00 287.50 C87.43 282.32 90.09 271.96 91.00 268.75 C91.91 265.54 91.69 268.44 92.40 265.00 C93.11 261.56 95.00 249.97 96.00 244.70 C97.00 239.43 98.56 231.91 99.40 228.10 C100.24 224.29 101.33 219.97 101.90 218.00 C102.47 216.03 102.53 215.61 103.40 214.30 C104.27 212.99 106.81 210.11 108.00 208.80 C109.19 207.49 110.64 205.81 111.70 205.10 C112.76 204.39 114.49 204.01 115.40 203.80 C116.31 203.59 116.03 203.57 118.10 203.60 C120.17 203.63 125.91 203.89 129.90 204.00 C133.89 204.11 138.84 204.25 146.00 204.35 C153.16 204.45 171.57 204.56 180.00 204.70 C188.43 204.84 198.50 205.10 205.00 205.30 C211.50 205.50 222.57 205.99 225.50 206.10" fill="none" stroke="#ff00ff" stroke-width="1.65" stroke-linejoin="round"/>
<path d="M61.50 342.50 C61.60 341.29 61.97 335.99 62.20 334.00 C62.43 332.01 62.84 329.83 63.10 328.60 C63.36 327.37 63.65 326.29 64.05 325.40 C64.45 324.51 65.38 323.00 65.90 322.40 C66.42 321.80 67.10 321.42 67.70 321.20 C68.30 320.98 68.34 320.92 70.10 320.85 C71.86 320.78 77.37 320.75 80.00 320.70 C82.63 320.65 86.71 320.59 88.50 320.50 C90.29 320.41 91.64 320.29 92.50 320.10 C93.36 319.91 93.90 319.43 94.50 319.20 C95.10 318.97 95.91 318.63 96.70 318.50 C97.49 318.37 96.89 318.36 100.00 318.30 C103.11 318.24 111.93 318.20 118.50 318.10 C125.07 318.00 137.21 317.77 146.00 317.60 C154.79 317.43 168.64 317.13 180.00 316.90 C191.36 316.67 219.00 316.13 225.50 316.00" fill="none" stroke="#222" stroke-width="1.4" stroke-linejoin="round"/>
<path d="M241.80 342.50 C243.11 342.32 248.97 341.96 251.00 341.25 C253.03 340.54 254.57 338.32 256.00 337.50 C257.43 336.68 259.21 336.07 261.00 335.50 C262.79 334.93 266.36 334.29 268.50 333.50 C270.64 332.71 274.04 331.04 276.00 330.00 C277.96 328.96 280.82 327.32 282.25 326.25 C283.68 325.18 284.93 323.57 286.00 322.50 C287.07 321.43 288.68 319.61 289.75 318.75 C290.82 317.89 292.07 316.89 293.50 316.50 C294.93 316.11 297.96 315.86 299.75 316.00 C301.54 316.14 303.68 317.00 306.00 317.50 C308.32 318.00 313.14 319.04 316.00 319.50 C318.86 319.96 322.43 320.25 326.00 320.75 C329.57 321.25 335.29 322.29 341.00 323.00 C346.71 323.71 358.86 325.11 366.00 325.75 C373.14 326.39 385.26 327.04 391.00 327.50 C396.74 327.96 404.03 328.79 406.20 329.00" fill="none" stroke="#ff00ff" stroke-width="1.1" stroke-dasharray="1.15 1.35"/>
<path d="M241.80 342.50 C242.40 342.14 244.86 341.07 246.00 340.00 C247.14 338.93 248.68 336.61 249.75 335.00 C250.82 333.39 252.25 331.25 253.50 328.75 C254.75 326.25 257.07 320.89 258.50 317.50 C259.93 314.11 262.07 308.21 263.50 305.00 C264.93 301.79 267.07 297.46 268.50 295.00 C269.93 292.54 272.16 289.23 273.50 287.80 C274.84 286.37 276.60 285.93 277.90 285.00 C279.20 284.07 281.40 282.27 282.60 281.30 C283.80 280.33 285.40 279.30 286.30 278.20 C287.20 277.10 288.23 274.60 288.90 273.60 C289.57 272.60 290.39 271.67 291.00 271.20 C291.61 270.73 292.59 270.39 293.20 270.30 C293.81 270.21 294.63 270.37 295.30 270.60 C295.97 270.83 297.16 271.20 297.90 271.90 C298.64 272.60 299.67 274.39 300.50 275.50 C301.33 276.61 302.71 278.41 303.70 279.70 C304.69 280.99 306.00 282.74 307.40 284.50 C308.80 286.26 311.56 290.21 313.50 292.00 C315.44 293.79 319.21 295.79 321.00 297.00 C322.79 298.21 324.57 299.36 326.00 300.50 C327.43 301.64 329.21 303.57 331.00 305.00 C332.79 306.43 336.54 309.07 338.50 310.50 C340.46 311.93 342.61 314.00 344.75 315.00 C346.89 316.00 350.46 316.68 353.50 317.50 C356.54 318.32 362.07 319.96 366.00 320.75 C369.93 321.54 376.71 322.46 381.00 323.00 C385.29 323.54 392.40 324.11 396.00 324.50 C399.60 324.89 404.74 325.57 406.20 325.75" fill="none" stroke="#ff00ff" stroke-width="1.65" stroke-linejoin="round"/>
<path d="M241.80 342.50 C241.97 340.71 242.58 333.04 243.00 330.00 C243.42 326.96 244.25 323.11 244.75 321.25 C245.25 319.39 245.79 318.18 246.50 317.00 C247.21 315.82 248.93 313.93 249.75 313.00 C250.57 312.07 251.18 311.18 252.25 310.50 C253.32 309.82 256.29 308.86 257.25 308.25 C258.21 307.64 258.46 307.07 259.00 306.25 C259.54 305.43 260.18 303.39 261.00 302.50 C261.82 301.61 263.86 300.71 264.75 300.00 C265.64 299.29 266.00 299.17 267.25 297.50 C268.50 295.83 272.21 290.09 273.50 288.30 C274.79 286.51 275.30 286.53 276.30 285.00 C277.30 283.47 279.14 279.70 280.50 277.60 C281.86 275.50 284.30 272.40 285.80 270.30 C287.30 268.20 289.50 265.01 291.00 262.90 C292.50 260.79 294.94 257.46 296.30 255.50 C297.66 253.54 299.44 250.70 300.50 249.20 C301.56 247.70 302.64 246.57 303.70 245.00 C304.76 243.43 306.47 240.09 307.90 238.20 C309.33 236.31 312.13 233.20 313.70 231.80 C315.27 230.40 317.47 229.37 318.90 228.40 C320.33 227.43 322.69 225.79 323.70 225.00 C324.71 224.21 324.36 224.36 326.00 222.90 C327.64 221.44 332.51 216.93 335.20 214.80 C337.89 212.67 342.04 209.40 344.80 208.00 C347.56 206.60 351.76 205.86 354.50 205.00 C357.24 204.14 361.67 202.60 364.00 202.00 C366.33 201.40 367.80 201.29 370.80 200.80 C373.80 200.31 380.57 199.16 385.00 198.60 C389.43 198.04 398.77 197.17 401.80 196.90 C404.83 196.63 405.57 196.73 406.20 196.70" fill="none" stroke="#222" stroke-width="1.4" stroke-linejoin="round"/>
<g font-family="'Liberation Serif', serif" fill="#111">
<rect x="190.6" y="182.8" width="30.700000000000017" height="24.5" fill="#fff" stroke="#444" stroke-width="0.7"/>
<text x="206.25" y="191.70" font-size="8.0" letter-spacing="0.2" text-anchor="middle"><tspan font-size="7.2">V</tspan>=0.02</text>
<text x="206.25" y="204.50" font-size="8.0" letter-spacing="0.2" text-anchor="middle">e=0.0</text>
<rect x="370.8" y="182.8" width="31.0" height="24.5" fill="#fff" stroke="#444" stroke-width="0.7"/>
<text x="386.60" y="191.70" font-size="8.0" letter-spacing="0.2" text-anchor="middle"><tspan font-size="7.2">V</tspan>=0.02</text>
<text x="386.60" y="204.50" font-size="8.0" letter-spacing="0.2" text-anchor="middle">e=0.001</text>
</g>
<g font-family="'Liberation Serif', serif" font-size="11.6" fill="#111">
<text x="49.8" y="8.0" text-anchor="end">100</text>
<text x="49.8" y="40.9" text-anchor="end">80</text>
<text x="49.8" y="73.8" text-anchor="end">60</text>
<text x="49.8" y="106.7" text-anchor="end">40</text>
<text x="49.8" y="139.6" text-anchor="end">20</text>
<text x="49.8" y="172.5" text-anchor="end">0</text>
<text x="49.8" y="183.2" text-anchor="end">100</text>
<text x="49.8" y="224.1" text-anchor="end">75</text>
<text x="49.8" y="265.0" text-anchor="end">50</text>
<text x="49.8" y="306.0" text-anchor="end">25</text>
<text x="49.8" y="347.0" text-anchor="end">0</text>
<text x="62.5" y="359.5" text-anchor="middle">0</text>
<text x="95.3" y="359.5" text-anchor="middle">20</text>
<text x="128.2" y="359.5" text-anchor="middle">40</text>
<text x="161.0" y="359.5" text-anchor="middle">60</text>
<text x="193.9" y="359.5" text-anchor="middle">80</text>
<text x="226.7" y="359.5" text-anchor="middle">100</text>
<text x="89.9" y="377.8">Simulation time</text>
<text x="171.9" y="377.8">[10<tspan font-size="7.8" dy="-6.4">3</tspan><tspan dy="6.4">]</tspan></text>
<text x="242.9" y="359.5" text-anchor="middle">0</text>
<text x="275.8" y="359.5" text-anchor="middle">20</text>
<text x="308.7" y="359.5" text-anchor="middle">40</text>
<text x="341.6" y="359.5" text-anchor="middle">60</text>
<text x="374.5" y="359.5" text-anchor="middle">80</text>
<text x="407.4" y="359.5" text-anchor="middle">100</text>
<text x="270.3" y="377.8">Simulation time</text>
<text x="352.3" y="377.8">[10<tspan font-size="7.8" dy="-6.4">3</tspan><tspan dy="6.4">]</tspan></text>
<text transform="translate(13.0,123.9) rotate(-90)">Location</text>
<text transform="translate(13.0,75.5) rotate(-90)">[10<tspan font-size="7.8" dy="-6.4">3</tspan><tspan dy="6.4">]</tspan></text>
<text transform="translate(13.0,322.2) rotate(-90)">#occupied patches</text>
<text transform="translate(13.0,227) rotate(-90)">[10<tspan font-size="7.8" dy="-6.4">3</tspan><tspan dy="6.4">]</tspan></text>
</g>
</svg>
</body></html>
